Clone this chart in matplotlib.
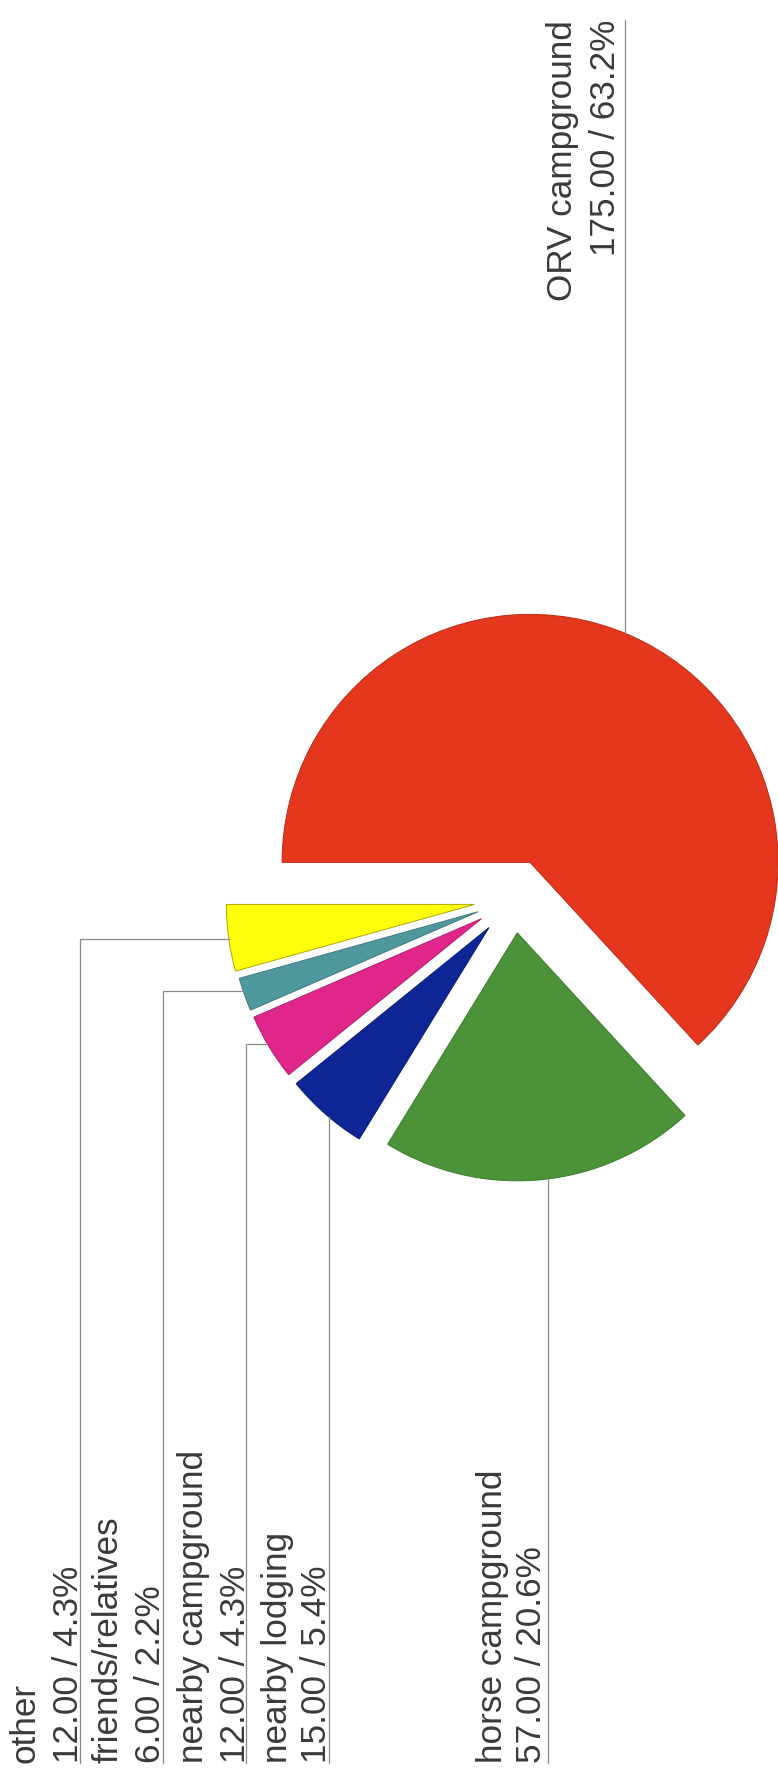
import math
import matplotlib
matplotlib.use("Agg")
import matplotlib.pyplot as plt

# Where visitors stayed
categories = ["ORV campground", "horse campground", "nearby lodging",
              "nearby campground", "friends/relatives", "other"]
counts = [175.0, 57.0, 15.0, 12.0, 6.0, 12.0]
colors = ["#E5361E", "#4B9238", "#0E2596", "#E0268A", "#4F999E", "#FFFF0C"]
edges = ["#B82A18", "#3A7A2C", "#0A1C70", "#B01E6C", "#3E7A7E", "#B0A800"]

W, H = 778, 1784
DPI = 100

plt.rcParams["font.family"] = ["Liberation Sans", "DejaVu Sans"]

fig = plt.figure(figsize=(W / DPI, H / DPI), dpi=DPI)
ax = fig.add_axes([0, 0, 1, 1])

total = sum(counts)
R = 248
wedges, _ = ax.pie(counts, colors=colors, startangle=180, counterclock=False,
                   radius=R, center=(514, H - 899),
                   explode=[40, 34, 38, 38, 38, 40],
                   wedgeprops=dict(linewidth=0.7))
for w, ec in zip(wedges, edges):
    w.set_edgecolor(ec)

ax.set_xlim(0, W)
ax.set_ylim(0, H)
ax.set_aspect("auto")
ax.axis("off")

TXT = "#3a3a3a"
LINE = "#8a8a8a"
FS = 25.3


def label_lines(i):
    return categories[i], f"{counts[i]:.2f} / {counts[i] / total * 100:.1f}%"


def arc_x_left(w, y):
    cx, cy = w.center
    return cx - math.sqrt(w.r ** 2 - (y - cy) ** 2)


def arc_y(w, x, upper):
    cx, cy = w.center
    d = math.sqrt(w.r ** 2 - (x - cx) ** 2)
    return cy + d if upper else cy - d


text_start = H - 1763
# left-side labels: (wedge index, first baseline x, second baseline x, leader x, elbow y)
left = [
    (5, 35, 78, 80, H - 939),
    (4, 118, 160, 163, H - 991),
    (3, 203, 245, 246, H - 1044),
    (2, 287, 326, 329, None),
    (1, 502, 541, 548, None),
]
for idx, b1, b2, lx, ey in left:
    l1, l2 = label_lines(idx)
    ax.text(b1, text_start, l1, rotation=90, rotation_mode="anchor",
            ha="left", va="baseline", fontsize=FS, color=TXT)
    ax.text(b2, text_start, l2, rotation=90, rotation_mode="anchor",
            ha="left", va="baseline", fontsize=FS, color=TXT)
    w = wedges[idx]
    if ey is not None:
        ex = arc_x_left(w, ey)
        ax.plot([lx, lx, ex], [text_start, ey, ey], color=LINE, lw=0.9,
                solid_joinstyle="miter")
    else:
        ax.plot([lx, lx], [text_start, arc_y(w, lx, upper=False)],
                color=LINE, lw=0.9)

# top label for the largest slice
l1, l2 = label_lines(0)
text_end = H - 20
ax.text(572, text_end, l1, rotation=90, rotation_mode="anchor",
        ha="right", va="baseline", fontsize=FS, color=TXT)
ax.text(615, text_end, l2, rotation=90, rotation_mode="anchor",
        ha="right", va="baseline", fontsize=FS, color=TXT)
ax.plot([625, 625], [text_end, arc_y(wedges[0], 625, upper=True)],
        color=LINE, lw=0.9)

fig.savefig("out.png", dpi=DPI, facecolor="white")
